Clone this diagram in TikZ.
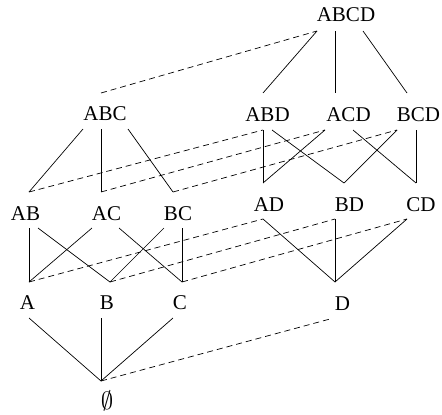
\documentclass[tikz,border=0pt]{standalone}
\usepackage{fontspec}
\setmainfont{Liberation Serif}
\begin{document}
\begin{tikzpicture}[x=1pt,y=-1pt,
  lbl/.style={inner sep=0pt,font=\fontsize{21}{25}\selectfont},
  edge/.style={line width=0.7pt},
  link/.style={line width=0.7pt,dash pattern=on 6pt off 4pt}]
\useasboundingbox (0,0) rectangle (442,415);
% labels
\node[lbl] (abcd) at (346,14.5) {ABCD};
\node[lbl] (abc) at (105,114) {ABC};
\node[lbl] (abd) at (267.5,114.5) {ABD};
\node[lbl] (acd) at (348.5,114.5) {ACD};
\node[lbl] (bcd) at (418.5,114.5) {BCD};
\node[lbl] (ab) at (25.5,213.5) {AB};
\node[lbl] (ac) at (106.5,213.5) {AC};
\node[lbl] (bc) at (178,213.5) {BC};
\node[lbl] (ad) at (269,205) {AD};
\node[lbl] (bd) at (349.5,205) {BD};
\node[lbl] (cd) at (421,205) {CD};
\node[lbl] (a) at (27.5,302.5) {A};
\node[lbl] (b) at (107,302.5) {B};
\node[lbl] (c) at (180,302.5) {C};
\node[lbl] (d) at (342.5,303.5) {D};
\node[lbl,font=\fontsize{23}{27}\selectfont] (e) at (107,401) {$\emptyset$};
% connection points
\coordinate (abcd-1) at (317,31);
\coordinate (abcd-2) at (335,31);
\coordinate (abcd-3) at (363,31);
\coordinate (abc-t) at (101,93);
\coordinate (abc-1) at (83,129);
\coordinate (abc-2) at (101,129);
\coordinate (abc-3) at (128,129);
\coordinate (abd-t) at (263,93);
\coordinate (abd-1) at (263,130);
\coordinate (abd-2) at (272,130);
\coordinate (acd-t) at (335,93);
\coordinate (acd-1) at (325,130);
\coordinate (acd-2) at (353,130);
\coordinate (bcd-t) at (407,93);
\coordinate (bcd-1) at (397,130);
\coordinate (bcd-2) at (416,130);
\coordinate (ab-t) at (29,192);
\coordinate (ab-1) at (29,228);
\coordinate (ab-2) at (38,228);
\coordinate (ac-t) at (101,192);
\coordinate (ac-1) at (92,228);
\coordinate (ac-2) at (119,228);
\coordinate (bc-t) at (173,192);
\coordinate (bc-1) at (164,228);
\coordinate (bc-2) at (182,228);
\coordinate (ad-t) at (263,183);
\coordinate (ad-1) at (263,219);
\coordinate (bd-t) at (344,183);
\coordinate (bd-1) at (335,219);
\coordinate (cd-t) at (416,183);
\coordinate (cd-1) at (407,219);
\coordinate (a-t) at (29,282);
\coordinate (a-1) at (29,318);
\coordinate (b-t) at (110,282);
\coordinate (b-1) at (101,318);
\coordinate (c-t) at (182,282);
\coordinate (c-1) at (173,318);
\coordinate (d-t) at (335,282);
\coordinate (d-1) at (330,319);
\coordinate (e-t) at (101,381);
% solid edges, left cube
\draw[edge] (abc-1) -- (ab-t);
\draw[edge] (abc-2) -- (ac-t);
\draw[edge] (abc-3) -- (bc-t);
\draw[edge] (ab-1) -- (a-t);
\draw[edge] (ab-2) -- (b-t);
\draw[edge] (ac-1) -- (a-t);
\draw[edge] (ac-2) -- (c-t);
\draw[edge] (bc-1) -- (b-t);
\draw[edge] (bc-2) -- (c-t);
\draw[edge] (a-1) -- (e-t);
\draw[edge] (b-1) -- (e-t);
\draw[edge] (c-1) -- (e-t);
% solid edges, right cube
\draw[edge] (abcd-1) -- (abd-t);
\draw[edge] (abcd-2) -- (acd-t);
\draw[edge] (abcd-3) -- (bcd-t);
\draw[edge] (abd-1) -- (ad-t);
\draw[edge] (abd-2) -- (bd-t);
\draw[edge] (acd-1) -- (ad-t);
\draw[edge] (acd-2) -- (cd-t);
\draw[edge] (bcd-1) -- (bd-t);
\draw[edge] (bcd-2) -- (cd-t);
\draw[edge] (ad-1) -- (d-t);
\draw[edge] (bd-1) -- (d-t);
\draw[edge] (cd-1) -- (d-t);
% dashed links
\draw[link] (abc-t) -- (abcd-1);
\draw[link] (ab-t) -- (abd-1);
\draw[link] (ac-t) -- (acd-1);
\draw[link] (bc-t) -- (bcd-1);
\draw[link] (a-t) -- (ad-1);
\draw[link] (b-t) -- (bd-1);
\draw[link] (c-t) -- (cd-1);
\draw[link] (e-t) -- (d-1);
\end{tikzpicture}
\end{document}
